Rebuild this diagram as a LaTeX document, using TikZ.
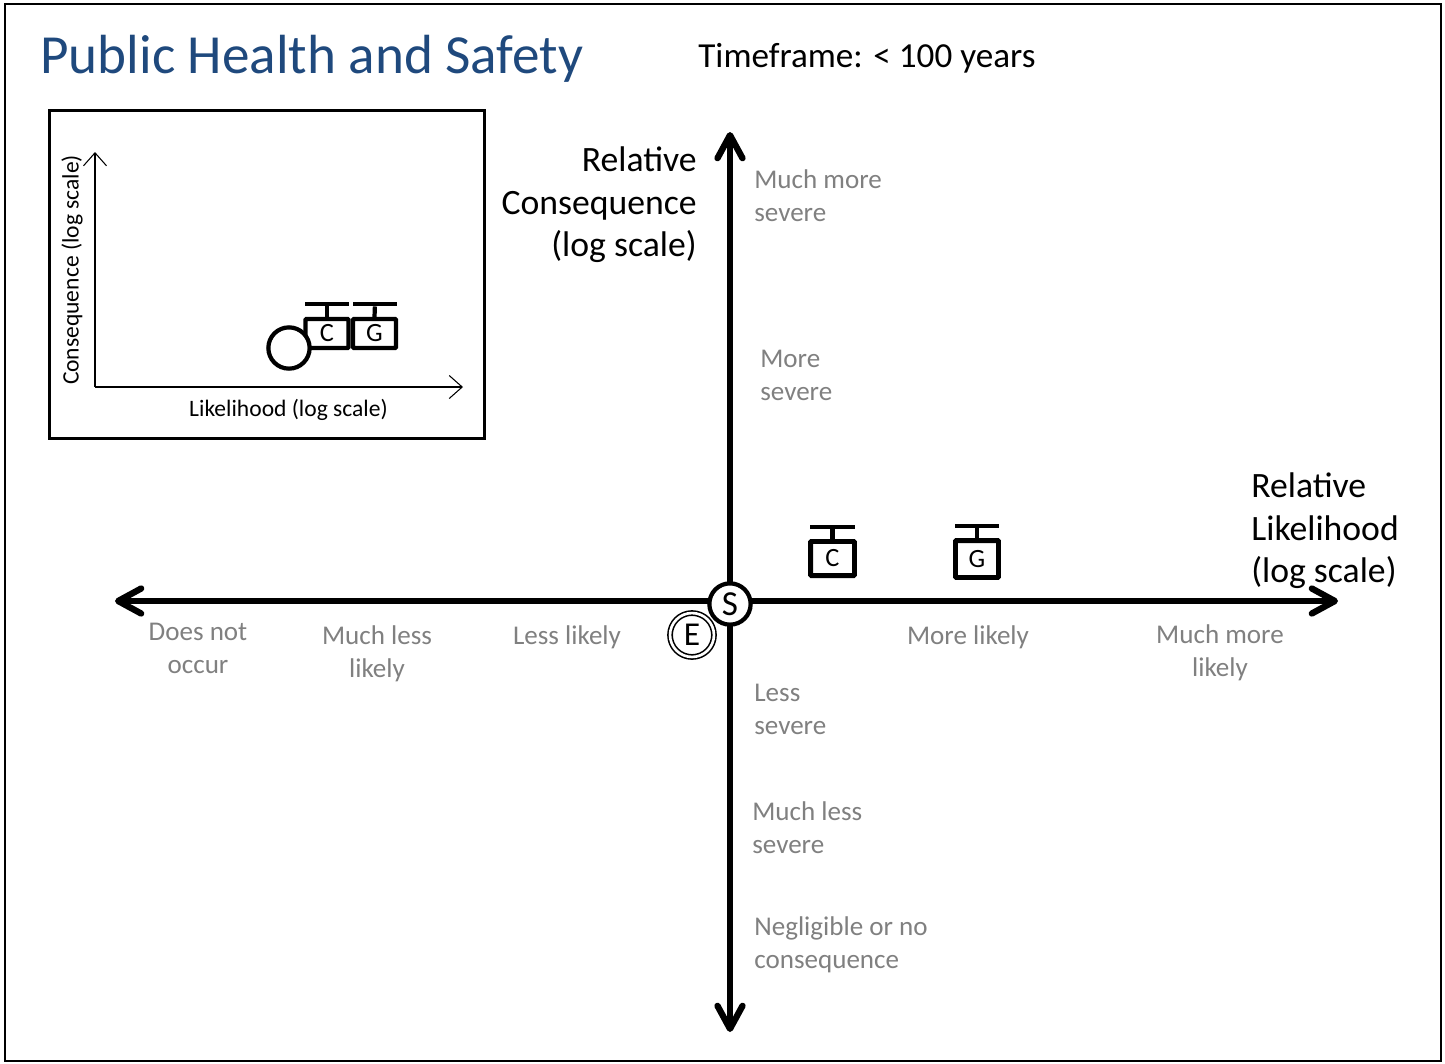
\documentclass[tikz,border=0pt]{standalone}
\usepackage{fontspec}
\setmainfont{Carlito}
\usetikzlibrary{arrows.meta, positioning}
\definecolor{titleblue}{RGB}{31,73,125}
\definecolor{labelgray}{RGB}{128,128,128}
\tikzstyle{bigaxis} = [line width=3.4pt, {Straight Barb[length=4.6mm,width=5mm,line width=3.6pt,round]}-{Straight Barb[length=4.6mm,width=5mm,line width=3.6pt,round]}]
\tikzstyle{smallaxis} = [line width=0.6pt, -{Straight Barb[length=2.6mm,width=4.6mm,line width=0.6pt]}]
\tikzstyle{frame} = [draw=black, line width=1.4pt]
\tikzstyle{inset} = [draw=black, line width=2pt]
\tikzstyle{tag} = [draw=black, fill=white, line width=2.8pt, rounded corners=0.5pt, minimum width=25pt, minimum height=19.4pt, inner sep=0pt, text=black, font=\fontsize{15}{15}\selectfont]
\tikzstyle{smalltag} = [tag, line width=2.4pt, minimum width=24.5pt, minimum height=16.4pt]
\tikzstyle{beam} = [fill=black, minimum width=25.6pt, minimum height=2.4pt, inner sep=0pt]
\tikzstyle{stem} = [line width=2.4pt]
\tikzstyle{scenario} = [circle, draw=black, fill=white, line width=2.4pt, minimum size=23.5pt, inner sep=0pt, font=\fontsize{20}{20}\selectfont]
\tikzstyle{hint} = [text=labelgray, font=\fontsize{15.4}{18.8}\selectfont, align=left, anchor=west, inner sep=0pt]
\tikzstyle{hintc} = [hint, align=center, anchor=center]
\tikzstyle{head} = [text=black, font=\fontsize{20.3}{24.2}\selectfont, inner sep=0pt]
\begin{document}
\begin{tikzpicture}[x=0.02cm, y=-0.02cm]
\useasboundingbox (0,0) rectangle (1445,1063);
\node (page) [frame, minimum width=28.72cm, minimum height=21.14cm, inner sep=0pt] at (723,532.5) {};
\node (title) [text=titleblue, font=\fontsize{31.4}{31.4}\selectfont, inner sep=0pt, anchor=west] at (40,58.5) {Public Health and Safety};
\node (time) [font=\fontsize{20}{20}\selectfont, inner sep=0pt, anchor=west] at (698,58) {Timeframe: < 100 years};
% inset
\node (box) [inset, minimum width=8.7cm, minimum height=6.56cm, inner sep=0pt] at (267,274.5) {};
\coordinate (o) at (95,387);
\coordinate (otop) at (95,152);
\coordinate (oright) at (463,387);
\draw [smallaxis] (o) -- (otop);
\draw [smallaxis] (o) -- (oright);
\node (cons) [rotate=90, font=\fontsize{13.4}{13.4}\selectfont, inner sep=0pt] at (72,270) {Consequence (log scale)};
\node (like) [font=\fontsize{13.4}{13.4}\selectfont, inner sep=0pt] at (288.5,410) {Likelihood (log scale)};
\node (c0) [smalltag] at (327,333.5) {C};
\node (g0) [smalltag] at (374.5,333.5) {G};
\node (c0bar) [beam] at (327,304) {};
\node (g0bar) [beam] at (375,304) {};
\draw [stem] (c0.north) -- (c0bar);
\draw [stem] (g0.north) -- (g0bar);
\node (s0) [scenario] at (289,348) {};
% main axes
\coordinate (left) at (115,601);
\coordinate (right) at (1338,601);
\coordinate (top) at (730,132);
\coordinate (bottom) at (730,1032);
\draw [bigaxis] (left) -- (right);
\draw [bigaxis] (top) -- (bottom);
\node (s) [scenario] at (730,604) {S};
\node (e) [scenario, minimum size=25pt, double, line width=0.9pt, double distance=1.5pt, font=\fontsize{19}{19}\selectfont] at (692,635) {E};
\node (c) [tag] at (832.5,558.5) {C};
\node (g) [tag, minimum width=24.5pt, minimum height=21pt] at (977,559) {G};
\node (cbar) [beam] at (832.5,527) {};
\node (gbar) [beam] at (977,526) {};
\draw [stem] (c.north) -- (cbar);
\draw [stem] (g.north) -- (gbar);
% axis titles
\node (ycap) [head, align=right, anchor=east] at (697,205) {Relative\\Consequence\\(log scale)};
\node (xcap) [head, align=left, anchor=west] at (1251,531) {Relative\\Likelihood\\(log scale)};
% gray labels
\node (y1) [hint] at (754,196) {Much more\\severe};
\node (y2) [hint] at (760,375) {More\\severe};
\node (y3) [hint] at (754,709) {Less\\severe};
\node (y4) [hint] at (752,828) {Much less\\severe};
\node (y5) [hint] at (754,945) {Negligible or no\\consequence};
\node (x1) [hintc] at (198,648) {Does not\\occur};
\node (x2) [hintc] at (377,653.5) {Much less\\likely};
\node (x3) [hintc] at (567,637) {Less likely};
\node (x4) [hintc] at (968,637) {More likely};
\node (x5) [hintc] at (1220,653) {Much more\\likely};
\end{tikzpicture}
\end{document}
